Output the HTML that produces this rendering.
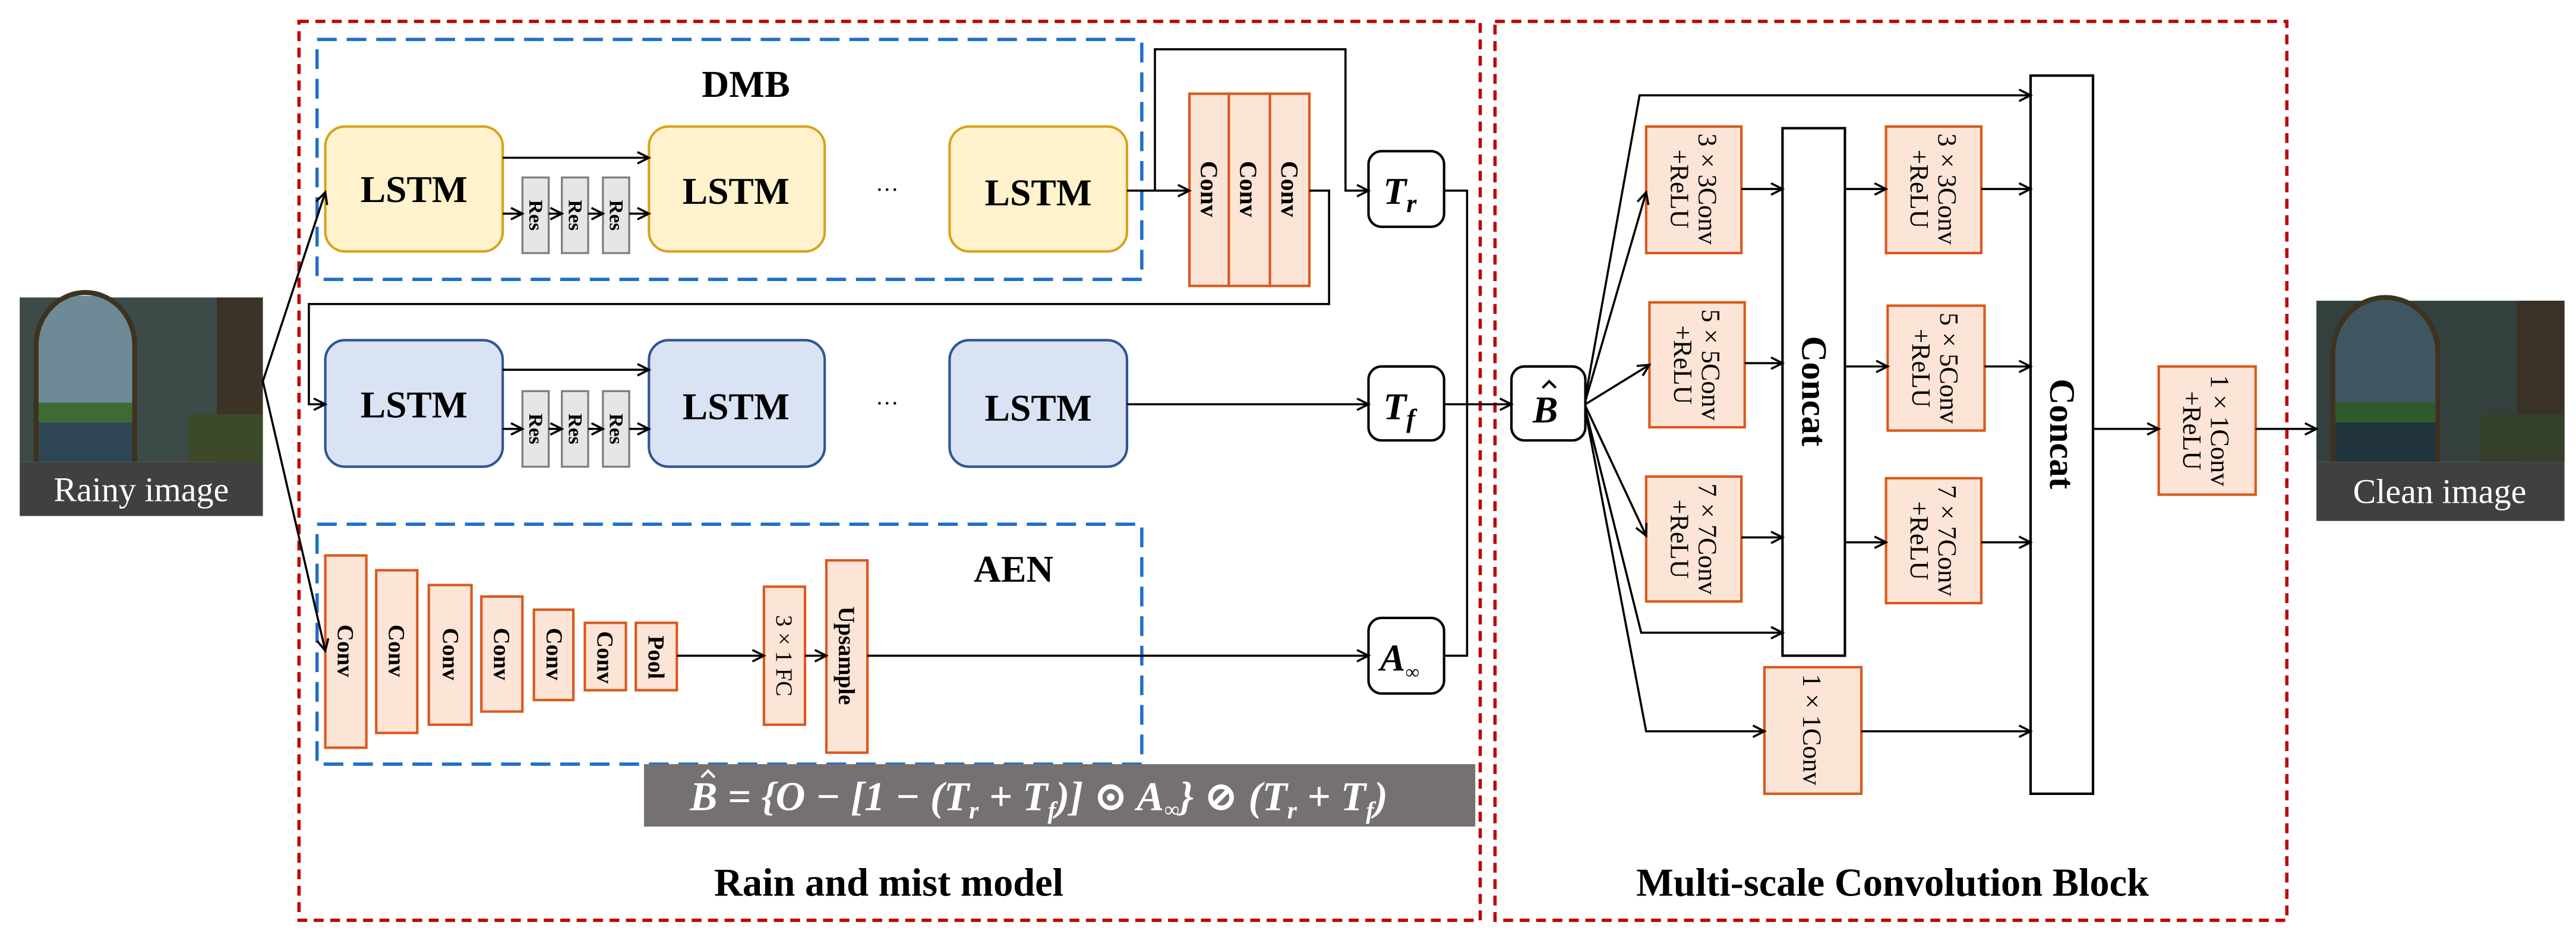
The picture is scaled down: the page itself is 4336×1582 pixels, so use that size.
<!DOCTYPE html>
<html><head><meta charset="utf-8"><style>
html,body{margin:0;padding:0;background:#fff;}
svg{display:block;}
svg text{font-family:"Liberation Serif","DejaVu Serif",serif;}
</style></head><body>
<svg width="4336" height="1582" viewBox="0 0 1568 572" preserveAspectRatio="none" xmlns="http://www.w3.org/2000/svg" font-family="'Liberation Serif', 'DejaVu Serif', serif">
<defs>
<marker id="a" markerWidth="10" markerHeight="10" refX="8" refY="4" orient="auto" markerUnits="userSpaceOnUse">
<path d="M1,0.5 L8,4 L1,7.5" fill="none" stroke="#000" stroke-width="1.3"/>
</marker>
<clipPath id="arch1"><path d="M22,281 L22,210 A30,32 0 0 1 82,210 L82,281 Z"/></clipPath>
</defs>

<rect x="182" y="13" width="719" height="547" fill="none" stroke="#c00000" stroke-width="2" stroke-dasharray="6,4"/>
<rect x="910" y="13" width="482" height="547" fill="none" stroke="#c00000" stroke-width="2" stroke-dasharray="6,4"/>

<rect x="193" y="24" width="502" height="146" fill="none" stroke="#1f6fc8" stroke-width="2" stroke-dasharray="12,6"/>
<rect x="193" y="319" width="502" height="146" fill="none" stroke="#1f6fc8" stroke-width="2" stroke-dasharray="12,6"/>
<text x="454" y="59" font-size="23" font-weight="bold" text-anchor="middle">DMB</text>
<text x="617" y="354" font-size="23" font-weight="bold" text-anchor="middle">AEN</text>

<!-- rainy image -->
<rect x="12" y="181" width="148" height="100" fill="#3c4a48"/>
<rect x="132" y="181" width="28" height="100" fill="#3a3326"/>
<g clip-path="url(#arch1)">
<rect x="20" y="180" width="64" height="102" fill="#6d8a96"/>
<rect x="20" y="245" width="64" height="12" fill="#3e6a35"/>
<rect x="20" y="257" width="64" height="25" fill="#2f4754"/>
</g>
<path d="M22,281 L22,210 A30,32 0 0 1 82,210 L82,281" fill="none" stroke="#3e3220" stroke-width="3"/>
<rect x="115" y="252" width="45" height="29" fill="#3d4a2a"/>
<rect x="12" y="281" width="148" height="33" fill="#404040"/>
<text x="86" y="305" font-size="21" fill="#fff" text-anchor="middle">Rainy image</text>

<!-- clean image -->
<rect x="1410" y="183" width="151" height="98" fill="#34403e"/>
<rect x="1532" y="183" width="29" height="98" fill="#3a3226"/>
<path d="M1420,281 L1420,215 A32,34 0 0 1 1484,215 L1484,281 Z" fill="#3f5660"/>
<rect x="1421" y="245" width="62" height="12" fill="#2f5a2c"/>
<rect x="1421" y="257" width="62" height="24" fill="#22343e"/>
<path d="M1420,281 L1420,215 A32,34 0 0 1 1484,215 L1484,281" fill="none" stroke="#3e3220" stroke-width="3"/>
<rect x="1510" y="252" width="51" height="29" fill="#34402a"/>
<rect x="1410" y="281" width="151" height="36" fill="#404040"/>
<text x="1485" y="306" font-size="21" fill="#fff" text-anchor="middle">Clean image</text>

<g font-size="23" font-weight="bold" text-anchor="middle">
<rect x="198" y="77" width="108" height="76" rx="12" fill="#fff2cc" stroke="#d6a419" stroke-width="1.5"/>
<rect x="395" y="77" width="107" height="76" rx="12" fill="#fff2cc" stroke="#d6a419" stroke-width="1.5"/>
<rect x="578" y="77" width="108" height="76" rx="12" fill="#fff2cc" stroke="#d6a419" stroke-width="1.5"/>
<text x="252" y="123">LSTM</text><text x="448" y="124">LSTM</text><text x="632" y="125">LSTM</text>
<rect x="198" y="207" width="108" height="77" rx="12" fill="#dae3f3" stroke="#2f5597" stroke-width="1.5"/>
<rect x="395" y="207" width="107" height="77" rx="12" fill="#dae3f3" stroke="#2f5597" stroke-width="1.5"/>
<rect x="578" y="207" width="108" height="77" rx="12" fill="#dae3f3" stroke="#2f5597" stroke-width="1.5"/>
<text x="252" y="254">LSTM</text><text x="448" y="255">LSTM</text><text x="632" y="256">LSTM</text>
</g>
<text x="540" y="120" font-size="14" text-anchor="middle">···</text>
<text x="540" y="250" font-size="14" text-anchor="middle">···</text>

<g fill="#e7e6e6" stroke="#7f7f7f" stroke-width="1.2">
<rect x="318" y="108" width="16" height="46"/><rect x="342" y="108" width="16" height="46"/><rect x="367" y="108" width="16" height="46"/>
<rect x="318" y="238" width="16" height="46"/><rect x="342" y="238" width="16" height="46"/><rect x="367" y="238" width="16" height="46"/>
</g>
<g font-size="12" font-weight="bold" text-anchor="middle">
<text transform="translate(326,131) rotate(90)" dominant-baseline="central">Res</text>
<text transform="translate(350,131) rotate(90)" dominant-baseline="central">Res</text>
<text transform="translate(375,131) rotate(90)" dominant-baseline="central">Res</text>
<text transform="translate(326,261) rotate(90)" dominant-baseline="central">Res</text>
<text transform="translate(350,261) rotate(90)" dominant-baseline="central">Res</text>
<text transform="translate(375,261) rotate(90)" dominant-baseline="central">Res</text>
</g>

<g fill="#fce4d6" stroke="#d9591b" stroke-width="1.5">
<rect x="724" y="57" width="24" height="117"/><rect x="748" y="57" width="25" height="117"/><rect x="773" y="57" width="24" height="117"/>
</g>
<g font-size="15" font-weight="bold" text-anchor="middle">
<text transform="translate(736,115) rotate(90)" dominant-baseline="central">Conv</text>
<text transform="translate(760,115) rotate(90)" dominant-baseline="central">Conv</text>
<text transform="translate(785,115) rotate(90)" dominant-baseline="central">Conv</text>
</g>

<g fill="#fff" stroke="#000" stroke-width="1.5">
<rect x="833" y="92" width="46" height="46" rx="8"/>
<rect x="833" y="223" width="46" height="45" rx="8"/>
<rect x="833" y="376" width="46" height="46" rx="8"/>
<rect x="920" y="223" width="45" height="45" rx="8"/>
</g>
<g font-size="23" font-weight="bold" font-style="italic">
<text x="842" y="124">T<tspan font-size="16" dy="5">r</tspan></text>
<text x="842" y="255">T<tspan font-size="16" dy="5">f</tspan></text>
<text x="840" y="408">A<tspan font-size="12" dy="5">∞</tspan></text>
<text x="933" y="257">B</text>
</g>
<path d="M939,236 L943,232 L947,236" fill="none" stroke="#000" stroke-width="1.5"/>

<g fill="#fce4d6" stroke="#d9591b" stroke-width="1.5">
<rect x="198" y="338" width="25" height="117"/>
<rect x="229" y="347" width="25" height="99"/>
<rect x="261" y="356" width="26" height="85"/>
<rect x="293" y="363" width="25" height="70"/>
<rect x="325" y="371" width="24" height="55"/>
<rect x="356" y="379" width="25" height="41"/>
<rect x="387" y="379" width="25" height="41"/>
<rect x="465" y="357" width="25" height="84"/>
<rect x="503" y="341" width="25" height="117"/>
</g>
<g font-size="14" font-weight="bold" text-anchor="middle">
<text transform="translate(210,396) rotate(90)" dominant-baseline="central">Conv</text>
<text transform="translate(241,396) rotate(90)" dominant-baseline="central">Conv</text>
<text transform="translate(274,398) rotate(90)" dominant-baseline="central">Conv</text>
<text transform="translate(305,398) rotate(90)" dominant-baseline="central">Conv</text>
<text transform="translate(337,398) rotate(90)" dominant-baseline="central">Conv</text>
<text transform="translate(368,400) rotate(90)" dominant-baseline="central">Conv</text>
<text transform="translate(399,400) rotate(90)" dominant-baseline="central">Pool</text>
<text transform="translate(477,399) rotate(90)" dominant-baseline="central" font-weight="normal">3 × 1 FC</text>
<text transform="translate(515,399) rotate(90)" dominant-baseline="central">Upsample</text>
</g>

<rect x="392" y="465" width="506" height="38" fill="#767171"/>
<text x="420" y="493" font-size="25" font-weight="bold" font-style="italic" fill="#fff">B = {O − [1 − (T<tspan font-size="15" dy="5">r</tspan><tspan dy="-5"> + T</tspan><tspan font-size="15" dy="5">f</tspan><tspan dy="-5">)] ⊙ A</tspan><tspan font-size="13" dy="4">∞</tspan><tspan dy="-4">} ⊘ (T</tspan><tspan font-size="15" dy="5">r</tspan><tspan dy="-5"> + T</tspan><tspan font-size="15" dy="5">f</tspan><tspan dy="-5">)</tspan></text>
<path d="M427,473 L431,469 L435,473" fill="none" stroke="#fff" stroke-width="1.5"/>

<text x="541" y="545" font-size="24" font-weight="bold" text-anchor="middle">Rain and mist model</text>
<text x="1152" y="545" font-size="24" font-weight="bold" text-anchor="middle">Multi-scale Convolution Block</text>

<g fill="none" stroke="#000" stroke-width="1.3">
<line x1="160" y1="232" x2="198" y2="117" marker-end="url(#a)"/>
<line x1="160" y1="232" x2="198" y2="396" marker-end="url(#a)"/>
<line x1="306" y1="96" x2="395" y2="96" marker-end="url(#a)"/>
<line x1="306" y1="130" x2="318" y2="130" marker-end="url(#a)"/>
<line x1="334" y1="130" x2="342" y2="130" marker-end="url(#a)"/>
<line x1="358" y1="130" x2="367" y2="130" marker-end="url(#a)"/>
<line x1="383" y1="130" x2="395" y2="130" marker-end="url(#a)"/>
<line x1="306" y1="225" x2="395" y2="225" marker-end="url(#a)"/>
<line x1="306" y1="261" x2="318" y2="261" marker-end="url(#a)"/>
<line x1="334" y1="261" x2="342" y2="261" marker-end="url(#a)"/>
<line x1="358" y1="261" x2="367" y2="261" marker-end="url(#a)"/>
<line x1="383" y1="261" x2="395" y2="261" marker-end="url(#a)"/>
<line x1="686" y1="116" x2="724" y2="116" marker-end="url(#a)"/>
<polyline points="703,116 703,30 819,30 819,116 833,116" marker-end="url(#a)"/>
<polyline points="797,116 809,116 809,185 188,185 188,246 198,246" marker-end="url(#a)"/>
<line x1="686" y1="246" x2="833" y2="246" marker-end="url(#a)"/>
<line x1="412" y1="399" x2="465" y2="399" marker-end="url(#a)"/>
<line x1="490" y1="399" x2="503" y2="399" marker-end="url(#a)"/>
<line x1="528" y1="399" x2="833" y2="399" marker-end="url(#a)"/>
<polyline points="879,116 893,116 893,399 879,399"/>
<line x1="879" y1="246" x2="920" y2="246" marker-end="url(#a)"/>
</g>

<g fill="#fce4d6" stroke="#d9591b" stroke-width="1.5">
<rect x="1002" y="77" width="58" height="77"/>
<rect x="1004" y="184" width="58" height="76"/>
<rect x="1002" y="290" width="58" height="76"/>
<rect x="1148" y="77" width="58" height="77"/>
<rect x="1149" y="186" width="59" height="76"/>
<rect x="1148" y="291" width="58" height="76"/>
<rect x="1074" y="406" width="59" height="77"/>
<rect x="1314" y="223" width="59" height="78"/>
</g>
<g fill="#fff" stroke="#000" stroke-width="1.5">
<rect x="1085" y="78" width="38" height="321"/>
<rect x="1236" y="46" width="38" height="437"/>
</g>
<g font-size="16" text-anchor="middle">
<text transform="translate(1031,115) rotate(90)"><tspan x="0" y="-3">3 × 3Conv</tspan><tspan x="0" y="14">+ReLU</tspan></text>
<text transform="translate(1033,222) rotate(90)"><tspan x="0" y="-3">5 × 5Conv</tspan><tspan x="0" y="14">+ReLU</tspan></text>
<text transform="translate(1031,328) rotate(90)"><tspan x="0" y="-3">7 × 7Conv</tspan><tspan x="0" y="14">+ReLU</tspan></text>
<text transform="translate(1177,115) rotate(90)"><tspan x="0" y="-3">3 × 3Conv</tspan><tspan x="0" y="14">+ReLU</tspan></text>
<text transform="translate(1178,224) rotate(90)"><tspan x="0" y="-3">5 × 5Conv</tspan><tspan x="0" y="14">+ReLU</tspan></text>
<text transform="translate(1177,329) rotate(90)"><tspan x="0" y="-3">7 × 7Conv</tspan><tspan x="0" y="14">+ReLU</tspan></text>
<text transform="translate(1103,444) rotate(90)" dominant-baseline="central">1 × 1Conv</text>
<text transform="translate(1343,262) rotate(90)"><tspan x="0" y="-3">1 × 1Conv</tspan><tspan x="0" y="14">+ReLU</tspan></text>
</g>
<g font-size="22" font-weight="bold" text-anchor="middle">
<text transform="translate(1104,238) rotate(90)" dominant-baseline="central">Concat</text>
<text transform="translate(1255,264) rotate(90)" dominant-baseline="central">Concat</text>
</g>

<g fill="none" stroke="#000" stroke-width="1.3">
<polyline points="965,242 998,58 1236,58" marker-end="url(#a)"/>
<line x1="965" y1="244" x2="1002" y2="117" marker-end="url(#a)"/>
<line x1="965" y1="246" x2="1004" y2="222" marker-end="url(#a)"/>
<line x1="965" y1="247" x2="1002" y2="326" marker-end="url(#a)"/>
<polyline points="965,249 999,385 1085,385" marker-end="url(#a)"/>
<polyline points="965,250 1002,445 1074,445" marker-end="url(#a)"/>
<line x1="1060" y1="115" x2="1085" y2="115" marker-end="url(#a)"/>
<line x1="1062" y1="221" x2="1085" y2="221" marker-end="url(#a)"/>
<line x1="1060" y1="327" x2="1085" y2="327" marker-end="url(#a)"/>
<line x1="1123" y1="115" x2="1148" y2="115" marker-end="url(#a)"/>
<line x1="1123" y1="223" x2="1149" y2="223" marker-end="url(#a)"/>
<line x1="1123" y1="330" x2="1148" y2="330" marker-end="url(#a)"/>
<line x1="1206" y1="115" x2="1236" y2="115" marker-end="url(#a)"/>
<line x1="1208" y1="223" x2="1236" y2="223" marker-end="url(#a)"/>
<line x1="1206" y1="330" x2="1236" y2="330" marker-end="url(#a)"/>
<line x1="1133" y1="445" x2="1236" y2="445" marker-end="url(#a)"/>
<line x1="1274" y1="261" x2="1314" y2="261" marker-end="url(#a)"/>
<line x1="1373" y1="261" x2="1410" y2="261" marker-end="url(#a)"/>
</g>
</svg>
</body></html>
